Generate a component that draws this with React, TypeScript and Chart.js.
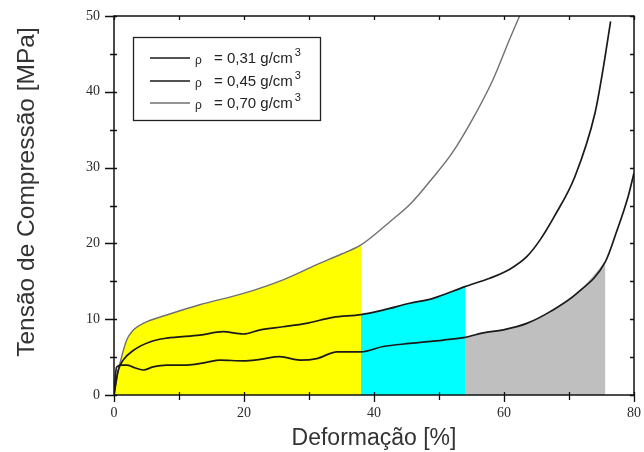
import React, { useEffect, useRef } from 'react';
import { Chart, registerables } from 'chart.js';

Chart.register(...registerables);

// Deformação [%] / Tensão [MPa] for each density
const strain31 = [0, 0.4, 1.2, 2.0, 3.0, 4.5, 6.0, 8.1, 11.2, 14.2, 16.3, 19.9, 22.5, 25.5, 28.6, 31.2, 34.3, 38, 41.4, 45.5, 50.7, 54, 56.8, 59.9, 63.5, 67.1, 71.2, 75.6, 77.3, 79.1, 80];
const stress31 = [0, 3.7, 3.95, 3.95, 3.65, 3.3, 3.7, 3.95, 3.95, 4.3, 4.6, 4.5, 4.7, 5.05, 4.6, 4.8, 5.7, 5.7, 6.4, 6.8, 7.25, 7.6, 8.2, 8.6, 9.45, 11, 13.4, 17.6, 21.5, 26.2, 29.3];

const strain45 = [0, 0.67, 1.4, 3.0, 5.5, 8.1, 13.2, 16.8, 19.9, 22.5, 26, 29.6, 33.7, 38, 41.4, 45.5, 49.1, 54, 57.8, 60.9, 63.5, 65.5, 67.7, 70.9, 74, 75.3, 76.4];
const stress45 = [0, 3.3, 4.6, 5.9, 7.0, 7.5, 7.9, 8.35, 8.05, 8.6, 9.0, 9.45, 10.25, 10.6, 11.2, 12.1, 12.75, 14.3, 15.4, 16.6, 18.25, 20.4, 23.5, 28.8, 37.2, 43.3, 49.3];

const strain70 = [0, 0.4, 0.92, 1.95, 3.0, 4.5, 8.1, 13.2, 19.9, 26, 31.2, 35, 38, 42.5, 45.7, 48.8, 52, 55.1, 58.3, 60.8, 62.4];
const stress70 = [0, 2.3, 4.2, 7.25, 8.6, 9.45, 10.55, 11.9, 13.4, 15.2, 17.2, 18.6, 19.8, 22.9, 25.3, 28.4, 31.9, 36.3, 41.6, 46.8, 50];

const densities = ['0,31', '0,45', '0,70'];
const seriesLabels = densities.map((d) => `ρ = ${d} g/cm³`);

// shaded strain ranges
const yellowRange = [0, 38];
const cyanRange = [38, 54];
const grayRange = [54, 75.6];

const xMin = 0, xMax = 80, xStep = 20;
const yMin = 0, yMax = 50, yStep = 10;

const xTitle = 'Deformação [%]';
const yTitle = 'Tensão de Compressão [MPa]';

function pts(xs: number[], ys: number[]) {
  return xs.map((x, i) => ({ x, y: ys[i] }));
}
function segment(xs: number[], ys: number[], r: number[]) {
  return pts(xs, ys).filter((p) => p.x >= r[0] && p.x <= r[1]);
}

const framePlugin = {
  id: 'frame',
  afterDatasetsDraw(chart: any) {
    const { ctx, chartArea: a, scales } = chart;
    const xs = scales.x, ys = scales.y;
    ctx.save();
    ctx.strokeStyle = '#111';
    ctx.lineWidth = 1.5;
    ctx.strokeRect(a.left, a.top, a.right - a.left, a.bottom - a.top);
    ctx.lineWidth = 1.3;
    ctx.beginPath();
    for (let v = yMin; v <= yMax; v += 5) {
      const py = Math.round(ys.getPixelForValue(v)) + 0.5;
      const major = v % yStep === 0;
      ctx.moveTo(a.left - (major ? 9 : 4), py);
      ctx.lineTo(a.left + 3, py);
      ctx.moveTo(a.right - 4, py);
      ctx.lineTo(a.right, py);
    }
    for (let v = xMin; v <= xMax; v += 10) {
      const px = Math.round(xs.getPixelForValue(v)) + 0.5;
      const major = v % xStep === 0;
      ctx.moveTo(px, a.bottom - 3);
      ctx.lineTo(px, a.bottom + (major ? 7 : 5));
      ctx.moveTo(px, a.top);
      ctx.lineTo(px, a.top + 4);
    }
    ctx.stroke();
    ctx.restore();
  },
};

const yTitlePlugin = {
  id: 'yTitle',
  afterDraw(chart: any) {
    const { ctx } = chart;
    ctx.save();
    ctx.translate(27, 192);
    ctx.rotate(-Math.PI / 2);
    ctx.fillStyle = '#333';
    ctx.font = "24.5px 'Liberation Sans', Arial, sans-serif";
    ctx.textAlign = 'center';
    ctx.textBaseline = 'middle';
    ctx.fillText(yTitle, 0, 0);
    ctx.restore();
  },
};

const legendPlugin = {
  id: 'boxLegend',
  afterDraw(chart: any) {
    const { ctx } = chart;
    const bx = 133, by = 37, bw = 187, bh = 83;
    ctx.save();
    ctx.fillStyle = '#fff';
    ctx.fillRect(bx, by, bw, bh);
    ctx.strokeStyle = '#222';
    ctx.lineWidth = 1.3;
    ctx.strokeRect(bx + 0.5, by + 0.5, bw, bh);
    const rows = [58, 81, 103];
    for (let i = 0; i < 3; i++) {
      const ds = chart.data.datasets[i];
      const y = rows[i];
      ctx.strokeStyle = ds.borderColor;
      ctx.lineWidth = ds.borderWidth;
      ctx.beginPath();
      ctx.moveTo(150, y);
      ctx.lineTo(190, y);
      ctx.stroke();
      ctx.fillStyle = '#222';
      ctx.textBaseline = 'alphabetic';
      ctx.font = "12px 'Liberation Sans', Arial, sans-serif";
      ctx.fillText('ρ', 195, y + 6);
      ctx.font = "15px 'Liberation Sans', Arial, sans-serif";
      const t = `= ${densities[i]} g/cm`;
      ctx.fillText(t, 214, y + 5);
      const w = ctx.measureText(t).width;
      ctx.font = "11px 'Liberation Sans', Arial, sans-serif";
      ctx.fillText('3', 214 + w + 2, y - 2);
    }
    ctx.restore();
  },
};

export default function App() {
  const ref = useRef<HTMLCanvasElement>(null);
  useEffect(() => {
    document.body.style.margin = '0';
    const lineCommon = {
      showLine: true,
      pointRadius: 0,
      fill: false,
      cubicInterpolationMode: 'monotone',
    };
    const fillCommon = {
      showLine: true,
      pointRadius: 0,
      borderWidth: 0,
      fill: 'origin',
      cubicInterpolationMode: 'monotone',
    };
    const chart = new Chart(ref.current as HTMLCanvasElement, {
      type: 'scatter',
      data: {
        datasets: [
          { ...lineCommon, label: seriesLabels[0], data: pts(strain31, stress31), borderColor: '#1a1a1a', borderWidth: 1.7 },
          { ...lineCommon, label: seriesLabels[1], data: pts(strain45, stress45), borderColor: '#1a1a1a', borderWidth: 1.7 },
          { ...lineCommon, label: seriesLabels[2], data: pts(strain70, stress70), borderColor: '#707070', borderWidth: 1.4 },
          { ...fillCommon, label: 'yellow', data: segment(strain70, stress70, yellowRange), backgroundColor: '#ffff00', borderColor: '#ffff00' },
          { ...fillCommon, label: 'cyan', data: segment(strain45, stress45, cyanRange), backgroundColor: '#00ffff', borderColor: '#00ffff' },
          { ...fillCommon, label: 'gray', data: segment(strain31, stress31, grayRange), backgroundColor: '#bfbfbf', borderColor: '#bfbfbf' },
        ] as any,
      },
      options: {
        animation: false,
        responsive: false,
        devicePixelRatio: 1,
        layout: { padding: { top: 16, right: 10, left: 0, bottom: 0 } },
        plugins: { legend: { display: false }, tooltip: { enabled: false } },
        scales: {
          x: {
            type: 'linear',
            min: xMin,
            max: xMax,
            grid: { display: false, drawTicks: false },
            border: { display: false },
            ticks: {
              stepSize: xStep,
              padding: 10,
              color: '#2a2a2a',
              font: { family: "'Liberation Serif', 'Times New Roman', serif", size: 14 },
            },
            title: {
              display: true,
              text: xTitle,
              color: '#333',
              font: { family: "'Liberation Sans', Arial, sans-serif", size: 23 },
              padding: { top: 0, bottom: 0 },
            },
            afterFit(s: any) {
              s.height = 57;
              s.paddingLeft = 0;
              s.paddingRight = 0;
            },
          },
          y: {
            type: 'linear',
            min: yMin,
            max: yMax,
            grid: { display: false, drawTicks: false },
            border: { display: false },
            ticks: {
              stepSize: yStep,
              padding: 14,
              color: '#2a2a2a',
              font: { family: "'Liberation Serif', 'Times New Roman', serif", size: 14 },
            },
            title: { display: false },
            afterFit(s: any) {
              s.width = 114;
              s.paddingTop = 0;
              s.paddingBottom = 0;
            },
          },
        },
      } as any,
      plugins: [framePlugin, legendPlugin, yTitlePlugin],
    });
    return () => chart.destroy();
  }, []);
  return (
    <div style={{ width: 644, height: 452 }}>
      <canvas ref={ref} width={644} height={452} />
    </div>
  );
}
